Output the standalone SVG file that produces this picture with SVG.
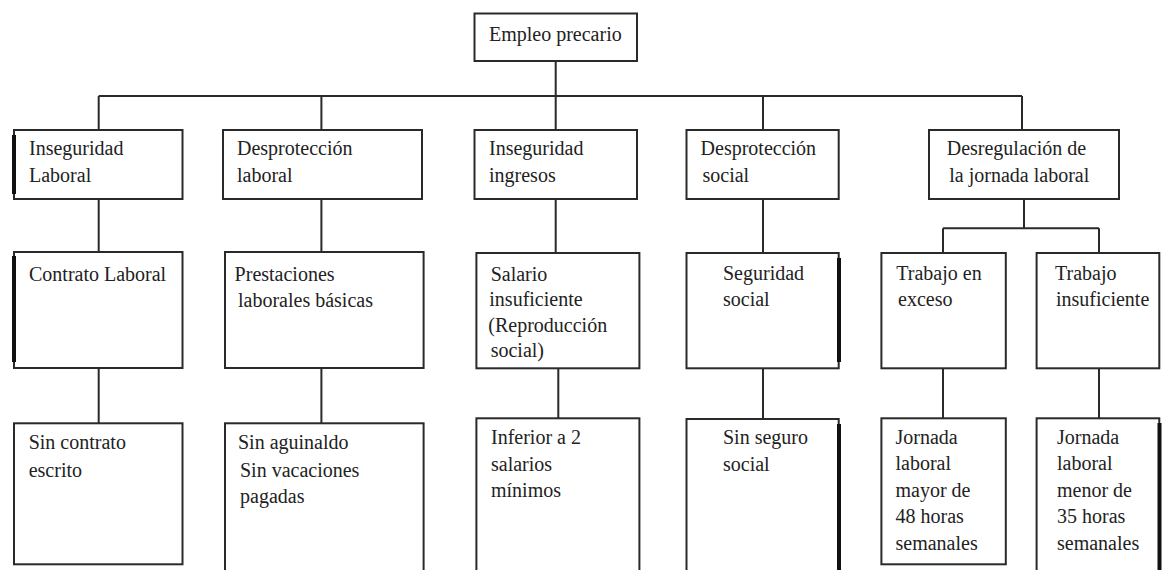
<svg xmlns="http://www.w3.org/2000/svg" width="1162" height="570" viewBox="0 0 1162 570">
<style>
.box{fill:#fff;stroke:#2a2a2a;stroke-width:2}
.edge{stroke:#111;stroke-width:4;fill:none}
.c{stroke:#2a2a2a;stroke-width:2;fill:none}
.t{font-family:'Liberation Serif','Tinos','DejaVu Serif',serif;font-size:20px;fill:#222}
</style>
<rect width="1162" height="570" fill="#fff"/>
<g id="connectors">
<path class="c" d="M555.7 61V96M98.7 96H1022M98.7 96V130M321.4 96V130M555.7 96V130M763 96V130M1022 96V130"/>
<path class="c" d="M98.7 199V252M321.4 199V252M555.7 199V253M763 199V253M1024 199V228.3M943 228.3H1099M943 228.3V253M1099 228.3V253"/>
<path class="c" d="M98.7 368V423M321.4 368V423M558.3 368V418M763 368V419M943 368V418M1099 368V418"/>
</g>
<g id="n-empleo"><rect class="box" x="474.5" y="13.5" width="162.5" height="47.5"/><text class="t" x="489" y="41">Empleo precario</text></g>
<g id="n-inseg-laboral"><rect class="box" x="14" y="130" width="168.5" height="69"/><path class="edge" d="M14 135V194"/><text class="t" x="29" y="155">Inseguridad</text><text class="t" x="29" y="182">Laboral</text></g>
<g id="n-desprot-laboral"><rect class="box" x="223" y="130" width="199" height="69"/><text class="t" x="237" y="155">Desprotección</text><text class="t" x="237" y="182">laboral</text></g>
<g id="n-inseg-ingresos"><rect class="box" x="474.5" y="130" width="162.5" height="69"/><text class="t" x="489" y="155">Inseguridad</text><text class="t" x="489" y="182">ingresos</text></g>
<g id="n-desprot-social"><rect class="box" x="686.5" y="130" width="152.2" height="69"/><text class="t" x="700.6" y="155">Desprotección</text><text class="t" x="702.5" y="182">social</text></g>
<g id="n-desreg"><rect class="box" x="929" y="130" width="190" height="69"/><text class="t" x="946.7" y="155">Desregulación de</text><text class="t" x="949.3" y="182">la jornada laboral</text></g>
<g id="n-contrato"><rect class="box" x="14" y="252" width="168.5" height="116"/><path class="edge" d="M14 256V362"/><text class="t" x="29" y="281">Contrato Laboral</text></g>
<g id="n-prestaciones"><rect class="box" x="225" y="252" width="198.6" height="116"/><text class="t" x="234.6" y="281">Prestaciones</text><text class="t" x="238" y="307">laborales básicas</text></g>
<g id="n-salario"><rect class="box" x="476.4" y="253" width="163" height="115.3"/><text class="t" x="490.7" y="281">Salario</text><text class="t" x="489.3" y="306">insuficiente</text><text class="t" x="488.3" y="332">(Reproducción</text><text class="t" x="490.7" y="357">social)</text></g>
<g id="n-seguridad"><rect class="box" x="686.5" y="253" width="152.2" height="115.3"/><path class="edge" d="M839 258V362"/><text class="t" x="723" y="280">Seguridad</text><text class="t" x="723" y="306">social</text></g>
<g id="n-exceso"><rect class="box" x="881.4" y="253" width="124.4" height="115.3"/><text class="t" x="896.3" y="280">Trabajo en</text><text class="t" x="898" y="306">exceso</text></g>
<g id="n-insuf"><rect class="box" x="1036.6" y="253" width="122.7" height="115.3"/><text class="t" x="1055" y="280">Trabajo</text><text class="t" x="1056" y="306">insuficiente</text></g>
<g id="n-sin-contrato"><rect class="box" x="14" y="423.3" width="168.5" height="141"/><text class="t" x="28.7" y="449">Sin contrato</text><text class="t" x="28.7" y="477">escrito</text></g>
<g id="n-sin-aguinaldo"><rect class="box" x="225" y="423.3" width="198.6" height="160"/><text class="t" x="238" y="449">Sin aguinaldo</text><text class="t" x="240" y="477">Sin vacaciones</text><text class="t" x="240" y="503">pagadas</text></g>
<g id="n-inferior"><rect class="box" x="476.4" y="418.3" width="163" height="165"/><text class="t" x="491" y="444">Inferior a 2</text><text class="t" x="491" y="471">salarios</text><text class="t" x="491" y="497">mínimos</text></g>
<g id="n-sin-seguro"><rect class="box" x="686.5" y="419" width="152.2" height="165"/><path class="edge" d="M839 424V572"/><text class="t" x="723" y="444">Sin seguro</text><text class="t" x="723" y="471">social</text></g>
<g id="n-mayor48"><rect class="box" x="881.4" y="418.3" width="124.4" height="146"/><text class="t" x="895.5" y="444">Jornada</text><text class="t" x="895.5" y="470">laboral</text><text class="t" x="895.5" y="497">mayor de</text><text class="t" x="895.5" y="523">48 horas</text><text class="t" x="895.5" y="550">semanales</text></g>
<g id="n-menor35"><rect class="box" x="1036.6" y="418.3" width="122.7" height="165"/><path class="edge" d="M1159.5 423V572"/><text class="t" x="1057" y="444">Jornada</text><text class="t" x="1057" y="470">laboral</text><text class="t" x="1057" y="497">menor de</text><text class="t" x="1057" y="523">35 horas</text><text class="t" x="1057" y="550">semanales</text></g>
</svg>
